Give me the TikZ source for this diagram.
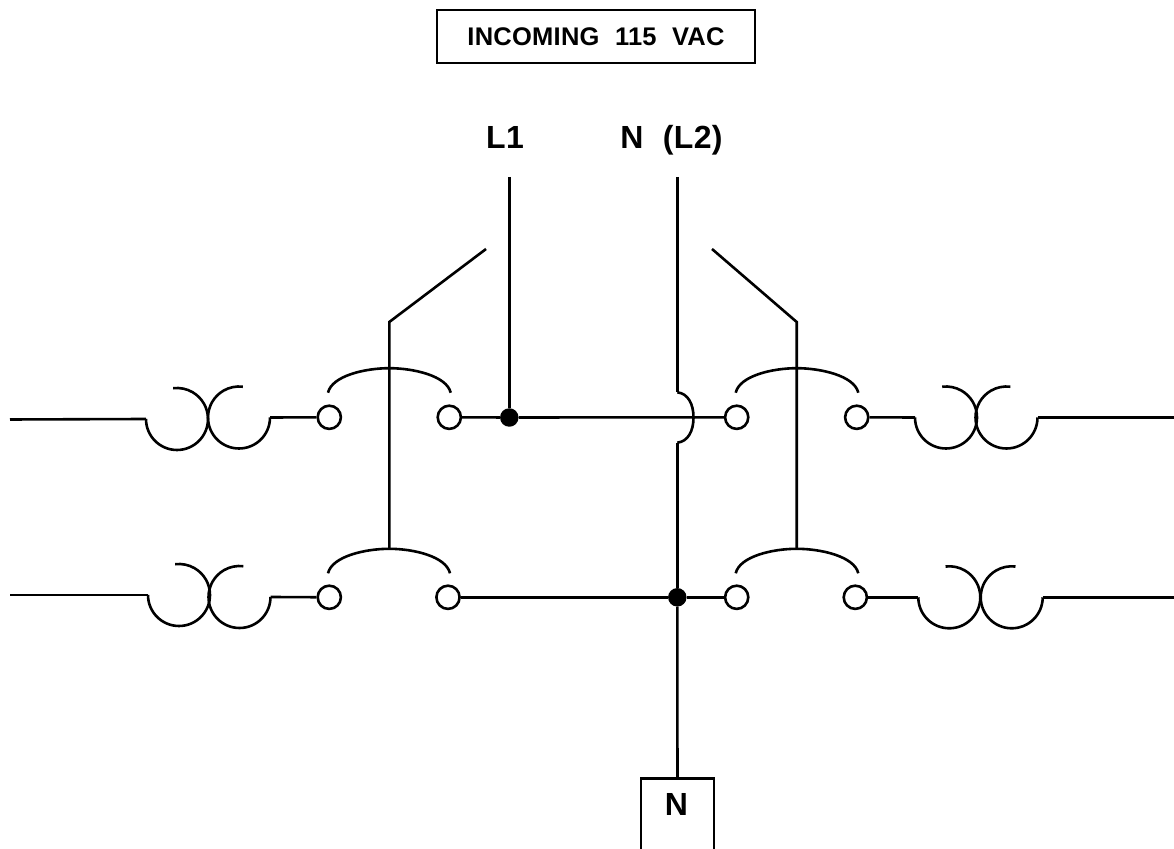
\documentclass[tikz,border=0pt]{standalone}
\usepackage{fontspec}
\setmainfont{Liberation Sans}[LetterSpace=1,WordSpace=2.1]
\tikzset{
  wire/.style={line width=2.6pt},
  terminal/.style={circle, draw, line width=2.6pt, fill=white, inner sep=0pt, minimum size=23.2pt},
  junction/.style={circle, fill=black, inner sep=0pt, minimum size=18.5pt},
  linelabel/.style={font=\fontsize{32}{32}\selectfont\bfseries, inner sep=0pt, anchor=base},
  labelbox/.style={draw, line width=2.6pt, inner sep=0pt, font=\fontsize{25.5}{25.5}\selectfont\bfseries}
}
\begin{document}
\begin{tikzpicture}[x=1pt,y=1pt]
\useasboundingbox (0,0) rectangle (1174,848);

% Labels
  \node[labelbox, minimum width=318pt, minimum height=53pt] (incoming) at (596,811.3) {INCOMING 115 VAC};
  \node[linelabel]               (L1) at (505,699.7) {L1};
  \node[linelabel]               (N2) at (671.5,699.7) {N (L2)};
  \node[labelbox, minimum width=73pt, minimum height=74pt, anchor=north] (Nbox) at (677.5,71) {};
  \node[linelabel]               (Ntext) at (676.5,32.3) {N};

% Terminals
  \node[terminal] (T1) at (329.3,430.7) {};
  \node[terminal] (T2) at (449.3,430.7) {};
  \node[terminal] (T3) at (736.7,430.7) {};
  \node[terminal] (T4) at (856.7,430.7) {};
  \node[terminal] (T5) at (329.3,250.7) {};
  \node[terminal] (T6) at (448,250.7) {};
  \node[terminal] (T7) at (736.7,250.7) {};
  \node[terminal] (T8) at (855.3,250.7) {};

% Junctions
  \node[junction] (J1) at (509.3,430.5) {};
  \node[junction] (J2) at (677.3,250.7) {};

% Free ends
  \coordinate (L1top) at (509.3,671);
  \coordinate (N2top) at (677.3,671);
  \coordinate (hopA) at (677.3,455.7);
  \coordinate (hopB) at (677.3,405.3);
  \coordinate (hopC) at (693.5,430.5);
  \coordinate (S1) at (389.3,526);
  \coordinate (S2) at (389.3,298);
  \coordinate (S1end) at (486,599);
  \coordinate (S3) at (796.7,526);
  \coordinate (S4) at (796.7,298);
  \coordinate (S3end) at (712,599);

% Fuses: name, left coil x, y, right coil x, y, wire end x, wire y
  \foreach \name/\xa/\ya/\xb/\yb/\xw/\yw in {
      F1/146/429/270/430.5/10/428.5,
      F2/148/253/270.5/251/10/253,
      F3/915/430.5/1037.5/430.5/1174/430.5,
      F4/918.3/250.7/1042.7/250.7/1174/250.7}{
    \coordinate (\name a) at (\xa,\ya);
    \coordinate (\name b) at (\xb,\yb);
    \coordinate (\name w) at (\xw,\yw);
    \draw[wire] (\name a) arc[start angle=180, end angle=457, radius=31pt];
    \draw[wire] (\name b) arc[start angle=0, end angle=-277, radius=31pt];
  }

% Contact bridges
  \foreach \xa/\xb/\xc/\yc in {
      328/389.3/450.7/455.3,
      328/389.3/450/274.7,
      735.7/796.7/858.3/455.3,
      735.7/796.7/858.3/274.7}{
    \draw[wire] (\xa,\yc) .. controls (\xa+4,\yc+17) and (\xb-24,\yc+24.5) .. (\xb,\yc+24.5)
       .. controls (\xb+24,\yc+24.5) and (\xc-4,\yc+17) .. (\xc,\yc);
  }

% Edges
  \draw[wire] (F1w) -- (F1a);
  \draw[wire] (F1b) -- (T1);
  \draw[wire] (T2) -- (J1);
  \draw[wire] (J1) -- (T3);
  \draw[wire] (T4) -- (F3a);
  \draw[wire] (F3b) -- (F3w);
  \draw[wire] (F2w) -- (F2a);
  \draw[wire] (F2b) -- (T5);
  \draw[wire] (T6) -- (J2);
  \draw[wire] (J2) -- (T7);
  \draw[wire] (T8) -- (F4a);
  \draw[wire] (F4b) -- (F4w);
  \draw[wire] (L1top) -- (J1);
  \draw[wire] (N2top) -- (hopA);
  \draw[wire] (hopA) .. controls (688,454.5) and (693.5,444) .. (hopC) .. controls (693.5,417) and (688,406.5) .. (hopB);
  \draw[wire] (hopB) -- (J2);
  \draw[wire] (J2) -- (Nbox);
  \draw[wire] (S1end) -- (S1) -- (S2);
  \draw[wire] (S3end) -- (S3) -- (S4);
\end{tikzpicture}
\end{document}
